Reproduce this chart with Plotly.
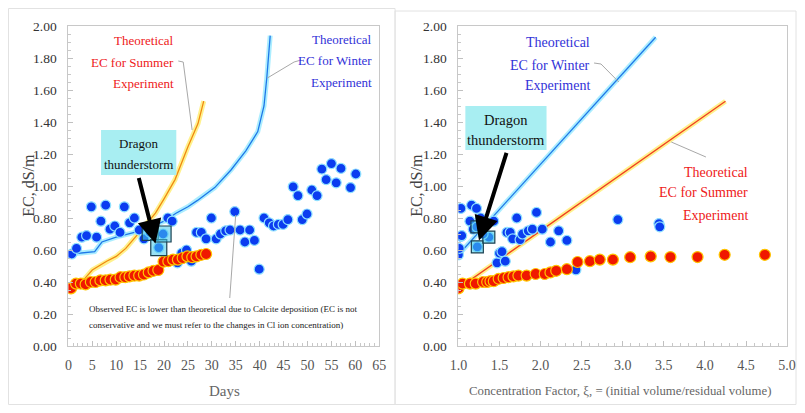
import plotly.graph_objects as go

# The page body has an 8px margin, so the figure is drawn 8px right/down of the window corner
# and only ~789px of width are visible; reference pixel positions are mapped into that area.
OFF = 8
FW, FH = 805 - 2 * OFF, 413 - 2 * OFF
def px(x): return (x - OFF) / (805 - OFF)
def py(y): return 1 - (y - OFF) / FH

FONT = "'Liberation Serif', 'DejaVu Serif', serif"

# ---------------- Left panel: EC vs Days ----------------
win_days = [0.7, 1.7, 2.8, 3.8, 4.8, 5.9, 6.8, 7.8, 8.7, 9.7, 10.8, 11.7, 12.8, 13.8, 14.8,
            15.8, 17.1, 18.9, 19.8, 20.8, 21.7, 22.8, 23.7, 24.7, 25.7, 26.8, 27.8, 28.8,
            29.9, 30.9, 31.8, 32.9, 33.8, 34.8, 35.9, 36.9, 37.9, 38.9, 39.9, 40.9, 42.0,
            42.9, 43.9, 44.9, 45.9, 47.0, 48.0, 48.9, 49.9, 50.9, 52.0, 53.0, 53.9, 55.0,
            56.0, 57.0, 59.0, 60.1]
win_ec = [0.575, 0.61, 0.68, 0.69, 0.87, 0.68, 0.78, 0.88, 0.73, 0.75, 0.71, 0.87, 0.77, 0.80, 0.725,
          0.67, 0.71, 0.615, 0.70, 0.80, 0.78, 0.52, 0.58, 0.60, 0.53, 0.71, 0.71, 0.67,
          0.80, 0.67, 0.70, 0.72, 0.725, 0.84, 0.725, 0.65, 0.725, 0.66, 0.48, 0.80, 0.77,
          0.75, 0.76, 0.76, 0.79, 0.995, 0.94, 0.79, 0.825, 0.975, 0.94, 1.106, 1.04, 1.14,
          1.02, 1.11, 0.99, 1.075]

sum_days = [0.55, 1.6, 2.6, 3.6, 4.7, 5.7, 6.7, 7.8, 8.8, 9.9, 10.9, 11.9, 12.8, 13.8, 14.8,
            15.8, 16.8, 17.8, 18.8, 19.9, 20.9, 21.9, 22.9, 23.9, 24.9, 25.9, 26.8, 27.8, 28.8]
sum_ec = [0.36, 0.39, 0.39, 0.385, 0.40, 0.40, 0.41, 0.41, 0.415, 0.415, 0.43, 0.43, 0.435, 0.44, 0.44,
          0.447, 0.46, 0.47, 0.475, 0.527, 0.53, 0.54, 0.54, 0.55, 0.56, 0.555, 0.56, 0.57, 0.575]

theo_win_days = [0.6, 5.5, 7.0, 10.0, 15.0, 17.0, 20.0, 22.5, 25.0, 27.0, 30.6, 34.0, 37.1, 39.6, 40.9, 41.5, 42.2]
theo_win_ec = [0.575, 0.59, 0.65, 0.68, 0.72, 0.74, 0.78, 0.83, 0.87, 0.91, 0.99, 1.10, 1.22, 1.34, 1.50, 1.68, 1.94]

theo_sum_days = [0.8, 2.5, 5.0, 8.0, 10.0, 12.0, 14.0, 16.0, 18.2, 20.0, 22.3, 25.0, 27.1, 28.3]
theo_sum_ec = [0.36, 0.39, 0.475, 0.53, 0.56, 0.61, 0.68, 0.75, 0.83, 0.92, 1.04, 1.245, 1.39, 1.53]

storm_days = [17.1, 18.9, 19.8]
storm_ec = [0.71, 0.615, 0.70]

day_ticks = list(range(0, 66, 5))
ec_ticks = [0.0, 0.2, 0.4, 0.6, 0.8, 1.0, 1.2, 1.4, 1.6, 1.8, 2.0]

# ---------------- Right panel: EC vs Concentration Factor ----------------
win_cf = [1.00, 1.01, 1.03, 1.04, 1.03, 1.14, 1.16, 1.22, 1.18, 1.225, 1.23, 1.37, 1.27, 1.30,
          1.43, 1.47, 1.50, 1.53, 1.57, 1.59, 1.63, 1.66, 1.71, 1.75, 1.78, 1.85, 1.90, 1.95,
          2.02, 2.12, 2.22, 2.32, 2.43, 2.94, 3.44, 3.45]
win_cf_ec = [0.57, 0.61, 0.685, 0.69, 0.86, 0.78, 0.88, 0.86, 0.73, 0.744, 0.62, 0.68, 0.80, 0.70,
             0.78, 0.52, 0.58, 0.59, 0.53, 0.71, 0.71, 0.67, 0.80, 0.665, 0.70, 0.72, 0.73, 0.835,
             0.73, 0.65, 0.72, 0.66, 0.476, 0.79, 0.765, 0.745]

sum_cf = [1.0, 1.05, 1.14, 1.21, 1.30, 1.35, 1.39, 1.43, 1.49, 1.55, 1.61, 1.67, 1.73, 1.83,
          1.94, 2.05, 2.12, 2.19, 2.32, 2.45, 2.60, 2.72, 2.88, 3.09, 3.34, 3.58, 3.91, 4.24, 4.73]
sum_cf_ec = [0.36, 0.39, 0.39, 0.39, 0.40, 0.40, 0.405, 0.405, 0.42, 0.425, 0.43, 0.435, 0.44, 0.44,
             0.45, 0.45, 0.46, 0.47, 0.48, 0.525, 0.53, 0.54, 0.54, 0.555, 0.56, 0.556, 0.556, 0.57, 0.57]

theo_win_cf = [1.0, 3.40]
theo_win_cf_ec = [0.57, 1.93]
theo_sum_cf = [1.0, 4.25]
theo_sum_cf_ec = [0.36, 1.53]

storm_cf = [1.225, 1.23, 1.37]
storm_cf_ec = [0.744, 0.62, 0.68]

cf_ticks = [1.0, 1.5, 2.0, 2.5, 3.0, 3.5, 4.0, 4.5, 5.0]

# ---------------- Styles ----------------
BLUE_DOT = dict(size=10, color="#0b3cf0", line=dict(color="#8fe0ff", width=1.2))
RED_DOT = dict(size=11, color="#f01800", line=dict(color="#ffc400", width=1.2))
BLUE_GLOW = dict(color="rgba(150,232,255,0.8)", width=5)
BLUE_CORE = dict(color="#1e78e8", width=1.3)
ORG_GLOW = dict(color="rgba(255,238,120,0.85)", width=5)

fig = go.Figure()

def add_panel(xa, ya, wx, wy, sx, sy, twx, twy, tsx, tsy, stx, sty, sqsize, core_org):
    fig.add_trace(go.Scatter(x=twx, y=twy, mode="lines", line=BLUE_GLOW, xaxis=xa, yaxis=ya, hoverinfo="skip"))
    fig.add_trace(go.Scatter(x=twx, y=twy, mode="lines", line=BLUE_CORE, xaxis=xa, yaxis=ya))
    fig.add_trace(go.Scatter(x=tsx, y=tsy, mode="lines", line=ORG_GLOW, xaxis=xa, yaxis=ya, hoverinfo="skip"))
    fig.add_trace(go.Scatter(x=tsx, y=tsy, mode="lines", line=dict(color=core_org, width=1.3), xaxis=xa, yaxis=ya))
    fig.add_trace(go.Scatter(x=wx, y=wy, mode="markers", marker=BLUE_DOT, xaxis=xa, yaxis=ya))
    fig.add_trace(go.Scatter(x=sx, y=sy, mode="markers", marker=RED_DOT, xaxis=xa, yaxis=ya))
    fig.add_trace(go.Scatter(x=stx, y=sty, mode="markers",
                             marker=dict(symbol="square", size=sqsize, color="rgba(70,200,235,0.55)",
                                         line=dict(color="#1a4050", width=1.2)),
                             xaxis=xa, yaxis=ya))

add_panel("x", "y", win_days, win_ec, sum_days, sum_ec, theo_win_days, theo_win_ec,
          theo_sum_days, theo_sum_ec, storm_days, storm_ec, 16, "#f08a10")
add_panel("x2", "y2", win_cf, win_cf_ec, sum_cf, sum_cf_ec, theo_win_cf, theo_win_cf_ec,
          theo_sum_cf, theo_sum_cf_ec, storm_cf, storm_cf_ec, 12, "#f04020")

def axis_common(minor_dtick):
    return dict(showline=True, linecolor="#c8c8c8", linewidth=1, mirror=True, automargin=False,
                ticks="inside", ticklen=5, tickcolor="#c0c0c0", showgrid=False, zeroline=False,
                minor=dict(ticks="inside", ticklen=3, tickcolor="#c8c8c8", showgrid=False, dtick=minor_dtick))

ydom = [py(346), py(26)]
fig.update_layout(
    width=FW, height=FH, margin=dict(l=0, r=0, t=0, b=0, autoexpand=False),
    paper_bgcolor="white", plot_bgcolor="white", showlegend=False,
    xaxis=dict(domain=[px(69), px(383)], range=[0, 65], tickvals=day_ticks, ticklabelstandoff=6,
               tickfont=dict(family=FONT, size=14, color="#555"), anchor="y", **axis_common(1)),
    yaxis=dict(domain=ydom, range=[0, 2], tickvals=ec_ticks, tickformat=".2f", ticklabelstandoff=8,
               tickfont=dict(family=FONT, size=13.5, color="#333"), anchor="x", **axis_common(0.05)),
    xaxis2=dict(domain=[px(463), px(795)], range=[1, 5], tickvals=cf_ticks, tickformat=".1f", ticklabelstandoff=6,
                tickfont=dict(family=FONT, size=14, color="#555"), anchor="y2", **axis_common(0.1)),
    yaxis2=dict(domain=ydom, range=[0, 2], tickvals=ec_ticks, tickformat=".2f", ticklabelstandoff=8,
                tickfont=dict(family=FONT, size=13.5, color="#333"), anchor="x2", **axis_common(0.05)),
)

annotations = []
def txt(x, y, s, color, size=13, xanchor="right", angle=0):
    annotations.append(dict(xref="paper", yref="paper", x=px(x), y=py(y), text=s, showarrow=False,
                            xanchor=xanchor, yanchor="middle", textangle=angle,
                            font=dict(family=FONT, size=size, color=color)))

RED_T = "#ee2020"
BLUE_T = "#3232d8"
# Left panel labels
for s, y in [("Theoretical", 41), ("EC for Summer", 62), ("Experiment", 83)]:
    txt(178, y, s, RED_T)
for s, y in [("Theoretical", 39), ("EC for Winter", 61), ("Experiment", 82)]:
    txt(378, y, s, BLUE_T)
txt(140, 143, "Dragon", "#111", size=13, xanchor="center")
txt(140, 164, "thunderstorm", "#111", size=13, xanchor="center")
txt(88, 309, "Observed EC is lower than theoretical due to Calcite deposition (EC is not", "#222", size=9, xanchor="left")
txt(88, 325, "conservative and we must refer to the changes in Cl ion concentration)", "#222", size=9, xanchor="left")
txt(227, 391, "Days", "#666", size=15, xanchor="center")
txt(28, 185, "EC, dS/m", "#444", size=16, xanchor="center", angle=-90)

# Right panel labels
for s, y in [("Theoretical", 43), ("EC for Winter", 65), ("Experiment", 86)]:
    txt(598, y, s, BLUE_T, size=14)
for s, y in [("Theoretical", 172), ("EC for Summer", 193), ("Experiment", 215)]:
    txt(758, y, s, RED_T, size=14)
txt(511, 120, "Dragon", "#111", size=14.5, xanchor="center")
txt(511, 140, "thunderstorm", "#111", size=14.5, xanchor="center")
txt(626, 391, "Concentration Factor, \u03be, = (initial volume/residual volume)", "#666", size=12.8, xanchor="center")
txt(420, 185, "EC, dS/m", "#444", size=16, xanchor="center", angle=-90)

# Arrows
annotations.append(dict(xref="x", yref="y", x=18.2, y=0.64, ax=-17, ay=-67, text="", showarrow=True,
                        arrowhead=2, arrowsize=1.2, arrowwidth=4, arrowcolor="black"))
annotations.append(dict(xref="x2", yref="y2", x=1.25, y=0.66, ax=28, ay=-89, text="", showarrow=True,
                        arrowhead=2, arrowsize=1.2, arrowwidth=4, arrowcolor="black"))
fig.update_layout(annotations=annotations)

shapes = []
def rect(x0, y0, x1, y1, line="#e2e2e2"):
    shapes.append(dict(type="rect", xref="paper", yref="paper", x0=px(x0), x1=px(x1), y0=py(y1), y1=py(y0),
                       fillcolor="rgba(0,0,0,0)", line=dict(color=line, width=1), layer="below"))
def path(points, color="#a8a8a8"):
    d = "M " + " L ".join(f"{px(x)},{py(y)}" for x, y in points)
    shapes.append(dict(type="path", xref="paper", yref="paper", path=d, line=dict(color=color, width=1)))

# outer borders
rect(8.5, 8.5, 399, 404.5)
rect(399, 11, 804, 404.5)
# dragon boxes
shapes.append(dict(type="rect", xref="paper", yref="paper", x0=px(102), x1=px(178), y0=py(175), y1=py(130),
                   fillcolor="#a8eef2", line=dict(width=0), layer="above"))
shapes.append(dict(type="rect", xref="paper", yref="paper", x0=px(470), x1=px(552), y0=py(150), y1=py(106),
                   fillcolor="#a8eef2", line=dict(width=0), layer="above"))
# leaders
path([(180, 61), (185, 62), (194, 130)])
path([(304, 60), (297, 62), (270, 78)])
path([(232, 298), (238, 215)])
path([(600, 63), (607, 64), (625, 82)])
path([(713, 157), (678, 142)])
fig.update_layout(shapes=shapes)

fig.write_html("out.html")
